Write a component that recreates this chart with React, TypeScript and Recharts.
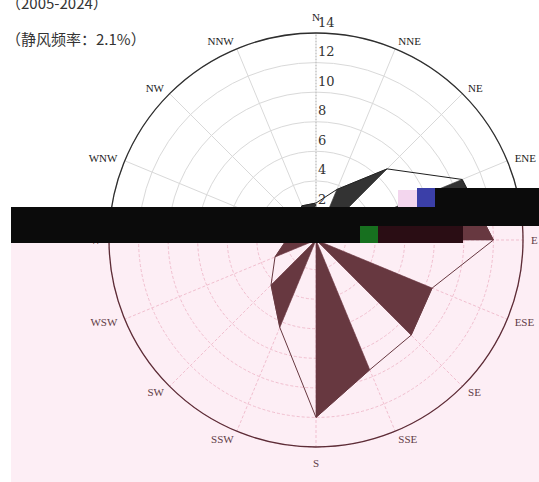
import { PolarAngleAxis, PolarGrid, PolarRadiusAxis, Radar, RadarChart } from 'recharts';

const DIRECTIONS = ['N', 'NNE', 'NE', 'ENE', 'E', 'ESE', 'SE', 'SSE', 'S', 'SSW', 'SW', 'WSW', 'W', 'WNW', 'NW', 'NNW'];
const FREQUENCY = [2.5, 3.7, 6.8, 10.7, 12.0, 8.5, 9.1, 9.5, 12.0, 6.4, 4.3, 3.0, 2.0, 1.5, 1.8, 2.5];
const RADIUS_TICKS = [0, 2, 4, 6, 8, 10, 12, 14];
const PERIOD = '（2005-2024）';
const CALM = '（静风频率：2.1%）';

const W = 539;
const H = 482;

type Theme = { grid: string; gridDash?: string; rim: string; fill: string; line: string; text: string; bg: string };

const LIGHT: Theme = { grid: '#d9d9d9', rim: '#2e2e2e', fill: '#333333', line: '#1e1e1e', text: '#222', bg: '#ffffff' };
const PINK: Theme = {
    grid: '#f1bfcf',
    gridDash: '3 2',
    rim: '#5c2c36',
    fill: '#673840',
    line: '#673840',
    text: '#5f3c46',
    bg: '#fdeef5',
};

const data = DIRECTIONS.map((dir, i) => ({ dir, value: FREQUENCY[i] }));

// alternate wedges are filled: centre -> odd point -> next point, then the whole outline on top
function roseShape(theme: Theme) {
    return (props: any) => {
        const pts = props.points ?? [];
        if (!pts.length) return <g />;
        const cx = pts[0].cx;
        const cy = pts[0].cy;
        const wedges = [];
        for (let i = 1; i < pts.length; i += 2) {
            const a = pts[i];
            const b = pts[(i + 1) % pts.length];
            wedges.push(
                <polygon
                    key={i}
                    points={`${cx},${cy} ${a.x},${a.y} ${b.x},${b.y}`}
                    fill={theme.fill}
                    stroke={theme.fill}
                    strokeWidth={0.6}
                />,
            );
        }
        return (
            <g>
                {wedges}
                <polygon
                    points={pts.map((p: any) => `${p.x},${p.y}`).join(' ')}
                    fill="none"
                    stroke={theme.line}
                    strokeWidth={1}
                />
            </g>
        );
    };
}

function Rose({ theme }: { theme: Theme }) {
    return (
        <RadarChart
            width={W}
            height={H}
            data={data}
            cx={316}
            cy={240}
            outerRadius={207}
            margin={{ top: 0, right: 0, bottom: 0, left: 0 }}
        >
            <PolarGrid gridType="circle" stroke={theme.grid} strokeWidth={1} strokeDasharray={theme.gridDash} />
            <PolarAngleAxis
                dataKey="dir"
                axisLineType="circle"
                axisLine={{ stroke: theme.rim, strokeWidth: 1.3 }}
                tickLine={false}
                tickSize={8}
                tick={(p: any) => {
                    const anchor = p.textAnchor ?? 'middle';
                    // N and S sit a little further out than the side labels
                    const dy = anchor === 'middle' ? (p.y < 240 ? -8 : 8) : 0;
                    return (
                        <text
                            x={p.x}
                            y={p.y + dy}
                            textAnchor={anchor}
                            dominantBaseline="central"
                            fontSize={11}
                            fontFamily="'Liberation Serif', serif"
                            fill={theme.text}
                        >
                            {p.payload.value}
                        </text>
                    );
                }}
            />
            <PolarRadiusAxis
                angle={90}
                type="number"
                domain={[0, 14]}
                ticks={RADIUS_TICKS}
                axisLine={{ stroke: '#bbbbbb', strokeDasharray: '1 2' }}
                tickLine={false}
                tick={(p: any) =>
                    p.payload.value === 0 ? (
                        <g />
                    ) : (
                        <text
                            x={p.x + 2}
                            y={p.y - 11}
                            textAnchor="start"
                            dominantBaseline="central"
                            fontSize={13}
                            fontFamily="'DejaVu Serif', serif"
                            fill="#333"
                        >
                            {p.payload.value}
                        </text>
                    )
                }
            />
            <Radar dataKey="value" isAnimationActive={false} dot={false} shape={roseShape(theme)} />
        </RadarChart>
    );
}

const box = (left: number, top: number, width: number, height: number, background: string) => (
    <div style={{ position: 'absolute', left, top, width, height, background }} />
);

const titleStyle = {
    position: 'absolute' as const,
    left: 6,
    fontFamily: "'Noto Sans CJK SC', sans-serif",
    fontSize: 15,
    lineHeight: '20px',
    color: '#333',
    whiteSpace: 'nowrap' as const,
};

export default function App() {
    return (
        <div style={{ position: 'absolute', left: 0, top: 0, width: W, height: H, overflow: 'hidden', background: '#fff' }}>
            <div style={{ position: 'absolute', left: 0, top: 0, width: W, height: H, clipPath: 'inset(0 0 256px 0)' }}>
                <Rose theme={LIGHT} />
            </div>
            <div
                style={{
                    position: 'absolute',
                    left: 0,
                    top: 0,
                    width: W,
                    height: H,
                    background: PINK.bg,
                    clipPath: 'inset(226px 0 0 11px)',
                }}
            >
                <Rose theme={PINK} />
            </div>
            {/* the band of damaged pixels across the middle of the source image */}
            {box(11, 207, 349, 36, '#0b0b0b')}
            {box(360, 207, 179, 19, '#0b0b0b')}
            {box(435, 188, 104, 19, '#0b0b0b')}
            {box(398, 190, 19, 17, '#f3d6ee')}
            {box(417, 188, 18, 19, '#3b3fa8')}
            {box(360, 226, 18, 17, '#17701f')}
            {box(378, 226, 85, 17, '#2a0d14')}
            <div style={{ ...titleStyle, top: -7 }}>{PERIOD}</div>
            <div style={{ ...titleStyle, top: 29 }}>{CALM}</div>
        </div>
    );
}
